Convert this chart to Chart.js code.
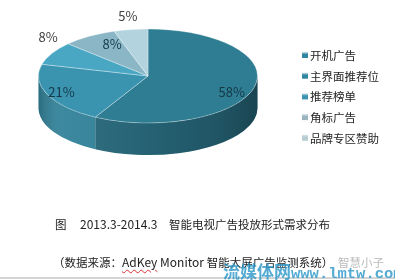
<!DOCTYPE html>
<html>
<head>
<meta charset="utf-8">
<script src="https://cdn.jsdelivr.net/npm/chart.js@4.4.1/dist/chart.umd.min.js"></script>
<style>
  body { margin: 0; background: #fff; }
  #box { position: relative; width: 395px; height: 280px; overflow: hidden; font-family: "Noto Sans CJK SC", sans-serif; }
  #box canvas { position: absolute; left: 0; top: 0; }
  .cap { position: absolute; white-space: pre; font-size: 11.5px; color: #222; line-height: 14px; }
  .lat { font-size: 12px; }
  .wavy { text-decoration: underline wavy #e03030; text-decoration-thickness: 1px; text-underline-offset: 2px; }
  #mark { position: absolute; left: 223px; top: 261px; white-space: pre; color: rgba(40,150,200,0.8); font-weight: bold; line-height: 20px; }
  #rule { position: absolute; left: 0; top: 277px; width: 395px; height: 2px; background: #d4d4d4; }
</style>
</head>
<body>
<div id="box">
  <canvas id="pie" width="395" height="280"></canvas>
  <div class="cap" style="left:55px; top:217px;">图</div>
  <div class="cap lat" style="left:80px; top:217px;">2013.3-2014.3</div>
  <div class="cap" style="left:169px; top:217px;">智能电视广告投放形式需求分布</div>
  <div class="cap" style="left:53px; top:255px;">（数据来源：<span class="lat"><span class="wavy">AdKey</span> Monitor </span>智能大屏广告监测系统）</div>
  <div class="cap" style="left:338px; top:255px; color:#bbb;">智慧小子</div>
  <div id="rule"></div>
  <div id="mark"><span style="font-size:17px;">流媒体网</span><span style="font-size:15.5px; font-family:'Liberation Mono', monospace;">www.lmtw.com</span></div>
</div>
<script>
// data
const categories = ['开机广告', '主界面推荐位', '推荐榜单', '角标广告', '品牌专区赞助'];
const shares = [58, 21, 8, 8, 5];

// look
const topColors = ['#2e7d92', '#3a93af', '#4aa7c4', '#8ab6c6', '#b3d3de'];
const sideColors = ['#27687b', '#34849b', '#3f8fa8', '#779fad', '#98b6c0'];
const legendColors = ['#2f86a0', '#2f86a0', '#3a93b0', '#9ab4c0', '#b8ccd4'];
const labelColors = ['#163848', '#163848', '#404040', '#163848', '#404040'];
// label placement: radial factor along x and y of the ellipse
const labelFx = [0.79, 0.86, 1.04, 0.61, 1.17];
const labelFy = [1.37, 0.88, 1.73, 0.80, 1.29];

const PIE_X = 148, PIE_Y = 76, PIE_RY = 47, DEPTH = 32;

function arcGeom(chart) {
    const arcs = chart.getDatasetMeta(0).data;
    return { arcs: arcs, cx: arcs[0].x, cy: arcs[0].y, r: arcs[0].outerRadius };
}

function drawWalls(chart) {
    const ctx = chart.ctx;
    const g = arcGeom(chart);
    const rx = g.r, ry = PIE_RY;
    ctx.save();
    g.arcs.forEach((arc, i) => {
        const a = Math.max(arc.startAngle, 0);
        const b = Math.min(arc.endAngle, Math.PI);
        if (b <= a) return;
        ctx.beginPath();
        ctx.ellipse(PIE_X, PIE_Y, rx, ry, 0, a, b);
        ctx.lineTo(PIE_X + rx * Math.cos(b), PIE_Y + ry * Math.sin(b) + DEPTH);
        ctx.ellipse(PIE_X, PIE_Y + DEPTH, rx, ry, 0, b, a, true);
        ctx.closePath();
        ctx.fillStyle = sideColors[i];
        ctx.fill();
    });
    // shading over the whole front band
    ctx.beginPath();
    ctx.ellipse(PIE_X, PIE_Y, rx, ry, 0, 0, Math.PI);
    ctx.lineTo(PIE_X - rx, PIE_Y + DEPTH);
    ctx.ellipse(PIE_X, PIE_Y + DEPTH, rx, ry, 0, Math.PI, 0, true);
    ctx.closePath();
    const sh = ctx.createLinearGradient(PIE_X - rx, 0, PIE_X + rx, 0);
    sh.addColorStop(0, 'rgba(0,0,0,0.18)');
    sh.addColorStop(0.12, 'rgba(255,255,255,0.04)');
    sh.addColorStop(0.5, 'rgba(0,0,0,0.06)');
    sh.addColorStop(0.85, 'rgba(0,0,0,0.2)');
    sh.addColorStop(1, 'rgba(0,0,0,0.35)');
    ctx.fillStyle = sh;
    ctx.fill();
    ctx.restore();
}

function drawLabels(chart) {
    const ctx = chart.ctx;
    const g = arcGeom(chart);
    ctx.save();
    ctx.font = '13px "Noto Sans CJK SC", sans-serif';
    ctx.textAlign = 'center';
    ctx.textBaseline = 'middle';
    g.arcs.forEach((arc, i) => {
        const mid = (arc.startAngle + arc.endAngle) / 2;
        const x = PIE_X + Math.cos(mid) * g.r * labelFx[i];
        const y = PIE_Y + Math.sin(mid) * PIE_RY * labelFy[i];
        ctx.fillStyle = labelColors[i];
        ctx.fillText(shares[i] + '%', x, y);
    });
    ctx.restore();
}

function drawLegend(chart) {
    const ctx = chart.ctx;
    ctx.save();
    ctx.font = '11.5px "Noto Sans CJK SC", sans-serif';
    ctx.textBaseline = 'middle';
    categories.forEach((name, i) => {
        const y = 55 + i * 20.7;
        const grd = ctx.createLinearGradient(0, y - 3, 0, y + 3);
        grd.addColorStop(0, '#d8e6ec');
        grd.addColorStop(0.4, legendColors[i]);
        grd.addColorStop(1, legendColors[i]);
        ctx.fillStyle = grd;
        ctx.fillRect(302, y - 3, 6, 6);
        ctx.fillStyle = '#1e1e1e';
        ctx.fillText(name, 310, y + 0.5);
    });
    ctx.restore();
}

const tiltPlugin = {
    id: 'tilt',
    beforeDatasetsDraw(chart) {
        drawWalls(chart);
        const g = arcGeom(chart);
        const ctx = chart.ctx;
        ctx.save();
        ctx.translate(PIE_X, PIE_Y);
        ctx.scale(1, PIE_RY / g.r);
        ctx.translate(-g.cx, -g.cy);
    },
    afterDatasetsDraw(chart) {
        chart.ctx.restore();
        drawLabels(chart);
        drawLegend(chart);
    }
};

const ctx = document.getElementById('pie').getContext('2d');
const chart = new Chart(ctx, {
    type: 'pie',
    data: {
        labels: categories,
        datasets: [{
            data: shares,
            backgroundColor: topColors,
            borderColor: 'rgba(255,255,255,0.45)',
            borderWidth: 1,
            clip: false
        }]
    },
    options: {
        responsive: false,
        animation: false,
        events: [],
        layout: { padding: { left: 38, right: 137, top: 30, bottom: 30 } },
        plugins: {
            legend: { display: false },
            tooltip: { enabled: false }
        }
    },
    plugins: [tiltPlugin]
});
</script>
</body>
</html>
